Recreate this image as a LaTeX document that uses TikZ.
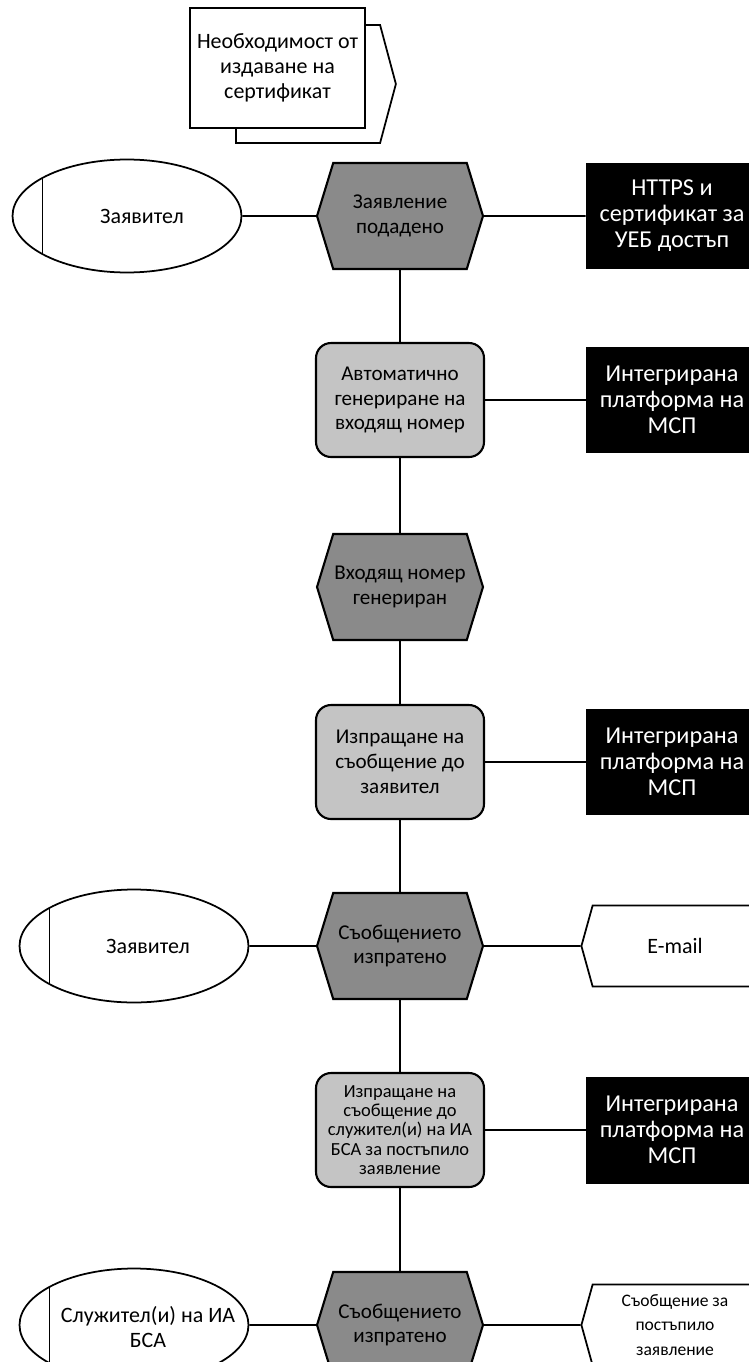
\documentclass[tikz,border=0pt]{standalone}
\usepackage{fontspec}
\setmainfont{Carlito}
\usetikzlibrary{shapes.geometric,shapes.symbols}

\definecolor{eventgray}{HTML}{8A8A8A}
\definecolor{funcgray}{HTML}{C4C4C4}

\tikzset{
	conn/.style={line width=1pt},
	event/.style={shape=signal, signal to=east and west, signal pointer angle=146, draw, line width=1.2pt, fill=eventgray, minimum width=3.32cm, minimum height=2.12cm, inner sep=0pt, align=center, font=\fontsize{12}{14.2}\selectfont},
	func/.style={draw, line width=1.2pt, rounded corners=0.3cm, fill=funcgray, minimum width=3.36cm, minimum height=2.28cm, inner sep=0pt, align=center, font=\fontsize{12}{14.2}\selectfont},
	system/.style={fill=black, text=white, minimum width=3.44cm, minimum height=2.14cm, inner sep=0pt, align=center, font=\fontsize{13.8}{14.8}\selectfont},
	actor/.style={ellipse, draw, line width=1pt, fill=white, minimum width=4.58cm, minimum height=2.26cm,
		path picture={\draw[line width=1pt] ([xshift=0.6cm]path picture bounding box.north west) -- ([xshift=0.6cm]path picture bounding box.south west);}},
	actortext/.style={align=center, font=\fontsize{12.5}{14.2}\selectfont},
	infobox/.style={shape=signal, signal to=west, signal pointer angle=149, draw, line width=1pt, fill=white, minimum width=3.52cm, minimum height=1.62cm, inner sep=0pt, align=center, font=\fontsize{12.5}{14.2}\selectfont},
}

\begin{document}
\begin{tikzpicture}[x=0.02cm, y=-0.02cm]
		\useasboundingbox (0,0) rectangle (749,1362);
		\clip (0,0) rectangle (749,1362);

		% trigger
		\node[shape=signal, signal to=east, signal pointer angle=150, draw, line width=1pt, fill=white, minimum width=3.2cm, minimum height=2.36cm] (needback) at (308,84) {};
		\node[draw, line width=1pt, fill=white, minimum width=3.5cm, minimum height=2.4cm, align=center, font=\fontsize{12.5}{14.2}\selectfont] (need) at (277.5,68) {Необходимост от\\издаване на\\сертификат};

		% row 1
		\node[actor] (app1) at (127,216) {};
		\node[actortext] (app1t) at (142,216) {Заявител};
		\node[event] (ev1) at (400,216) {Заявление\\подадено};
		\node[system] (sys1) at (672,216) {HTTPS и\\сертификат за\\УЕБ достъп};

		% row 2
		\node[func] (fn1) at (400,400) {Автоматично\\генериране на\\входящ номер};
		\node[system] (sys2) at (672,400) {Интегрирана\\платформа на\\МСП};

		% row 3
		\node[event] (ev2) at (400,587) {Входящ номер\\генериран};

		% row 4
		\node[func] (fn2) at (400,762) {Изпращане на\\съобщение до\\заявител};
		\node[system] (sys3) at (672,762) {Интегрирана\\платформа на\\МСП};

		% row 5
		\node[actor] (app2) at (134,946) {};
		\node[actortext] (app2t) at (148,946) {Заявител};
		\node[event] (ev3) at (400,946) {Съобщението\\изпратено};
		\node[infobox] (mail) at (675,946) {E-mail};

		% row 6
		\node[func, font=\fontsize{10.5}{11}\selectfont] (fn3) at (400,1130) {Изпращане на\\съобщение до\\служител(и) на ИА\\БСА за постъпило\\заявление};
		\node[system] (sys4) at (672,1130) {Интегрирана\\платформа на\\МСП};

		% row 7
		\node[actor] (emp) at (134,1325) {};
		\node[actortext] (empt) at (148,1327) {Служител(и) на ИА\\БСА};
		\node[event] (ev4) at (400,1325) {Съобщението\\изпратено};
		\node[infobox, font=\fontsize{10}{14}\selectfont] (note) at (675,1325) {Съобщение за\\постъпило\\заявление};

		% flow
		\draw[conn] (ev1) -- (fn1);
		\draw[conn] (fn1) -- (ev2);
		\draw[conn] (ev2) -- (fn2);
		\draw[conn] (fn2) -- (ev3);
		\draw[conn] (ev3) -- (fn3);
		\draw[conn] (fn3) -- (ev4);

		% links
		\draw[conn] (app1) -- (ev1);
		\draw[conn] (ev1) -- (sys1);
		\draw[conn] (fn1) -- (sys2);
		\draw[conn] (fn2) -- (sys3);
		\draw[conn] (app2) -- (ev3);
		\draw[conn] (ev3) -- (mail);
		\draw[conn] (fn3) -- (sys4);
		\draw[conn] (emp) -- (ev4);
		\draw[conn] (ev4) -- (note);
	\end{tikzpicture}
\end{document}
